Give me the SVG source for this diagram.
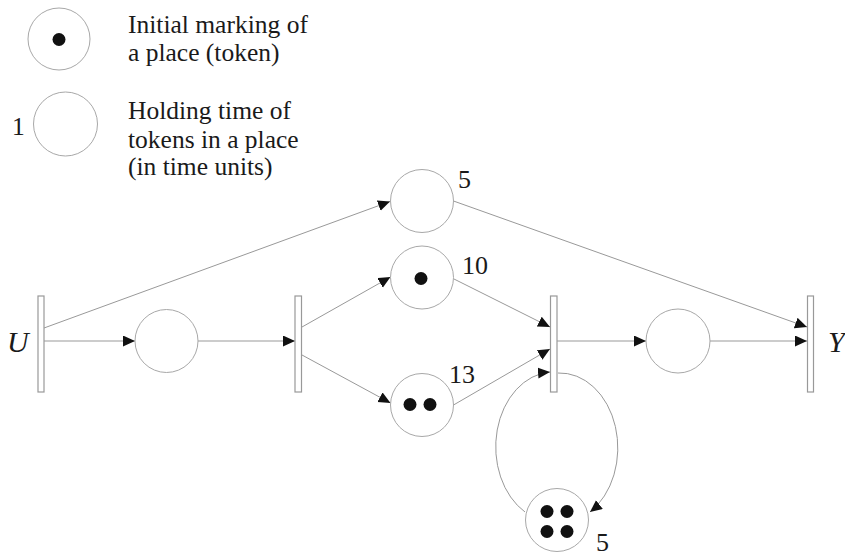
<svg xmlns="http://www.w3.org/2000/svg" width="845" height="557" viewBox="0 0 845 557">
<style>
.pl{fill:#fff;stroke:#a8a8a8;stroke-width:1}
.tr{fill:#fff;stroke:#999;stroke-width:1.2}
.tk{fill:#111}
.ln{fill:none;stroke:#999;stroke-width:1}
.t{font-family:'Liberation Serif','DejaVu Serif',serif;font-size:25.5px;fill:#1a1a1a}
.n{font-family:'Liberation Serif','DejaVu Serif',serif;font-size:26px;fill:#1a1a1a}
.v{font-family:'Liberation Serif','DejaVu Serif',serif;font-size:30px;font-style:italic;fill:#1a1a1a}
</style>
<defs>
<marker id="ah" markerUnits="userSpaceOnUse" markerWidth="13" markerHeight="12" refX="12" refY="5.5" orient="auto">
<path d="M0,0 L12,5.5 L0,11 z" fill="#111"/>
</marker>
</defs>
<rect width="845" height="557" fill="#fff"/>
<g id="legend">
<circle class="pl" cx="59" cy="39" r="31"/>
<circle class="tk" cx="59" cy="39.5" r="6.5"/>
<text class="t" x="128" y="33">Initial marking of</text>
<text class="t" x="128" y="61">a place (token)</text>
<circle class="pl" cx="65.5" cy="124" r="32"/>
<text class="t" x="12" y="135">1</text>
<text class="t" x="128" y="119">Holding time of</text>
<text class="t" x="128" y="148">tokens in a place</text>
<text class="t" x="128" y="175">(in time units)</text>
</g>
<g id="connectors">
<line class="ln" x1="44" y1="341" x2="135" y2="341" marker-end="url(#ah)"/>
<line class="ln" x1="198" y1="341" x2="295" y2="341" marker-end="url(#ah)"/>
<line class="ln" x1="44" y1="328" x2="390" y2="201.5" marker-end="url(#ah)"/>
<line class="ln" x1="302" y1="327" x2="390.5" y2="277" marker-end="url(#ah)"/>
<line class="ln" x1="302" y1="355" x2="390.5" y2="403" marker-end="url(#ah)"/>
<line class="ln" x1="453.5" y1="201" x2="807" y2="327" marker-end="url(#ah)"/>
<line class="ln" x1="454" y1="279" x2="550" y2="327" marker-end="url(#ah)"/>
<line class="ln" x1="453.5" y1="405" x2="550" y2="349" marker-end="url(#ah)"/>
<line class="ln" x1="557" y1="341" x2="646" y2="341" marker-end="url(#ah)"/>
<line class="ln" x1="710" y1="341" x2="807" y2="341" marker-end="url(#ah)"/>
<path class="ln" d="M525,512 A58 75 0 0 1 550,372" marker-end="url(#ah)"/>
<path class="ln" d="M558,373 A58 75 0 0 1 590,512" marker-end="url(#ah)"/>
</g>
<g id="U">
<rect class="tr" x="38" y="296" width="6" height="96"/>
<text class="v" x="7" y="352">U</text>
</g>
<g id="p1"><circle class="pl" cx="166.5" cy="341" r="31.5"/></g>
<g id="t2"><rect class="tr" x="295" y="296" width="6.5" height="96"/></g>
<g id="p5">
<circle class="pl" cx="422" cy="201" r="31.5"/>
<text class="n" x="458" y="188">5</text>
</g>
<g id="p10">
<circle class="pl" cx="422" cy="277.5" r="31.5"/>
<circle class="tk" cx="421" cy="278.5" r="6.5"/>
<text class="n" x="462" y="274">10</text>
</g>
<g id="p13">
<circle class="pl" cx="422" cy="405" r="31.5"/>
<circle class="tk" cx="410" cy="404.5" r="6.5"/>
<circle class="tk" cx="430" cy="404.5" r="6.5"/>
<text class="n" x="449" y="383">13</text>
</g>
<g id="t3"><rect class="tr" x="550.5" y="296" width="6.5" height="96"/></g>
<g id="p4"><circle class="pl" cx="678" cy="341" r="32"/></g>
<g id="p6">
<circle class="pl" cx="557" cy="520" r="31.5"/>
<circle class="tk" cx="547" cy="511.5" r="6.5"/>
<circle class="tk" cx="567" cy="511.5" r="6.5"/>
<circle class="tk" cx="547" cy="531.5" r="6.5"/>
<circle class="tk" cx="567" cy="531.5" r="6.5"/>
<text class="n" x="596" y="551">5</text>
</g>
<g id="Y">
<rect class="tr" x="807.5" y="296" width="6" height="96"/>
<text class="v" x="828" y="352">Y</text>
</g>
</svg>
